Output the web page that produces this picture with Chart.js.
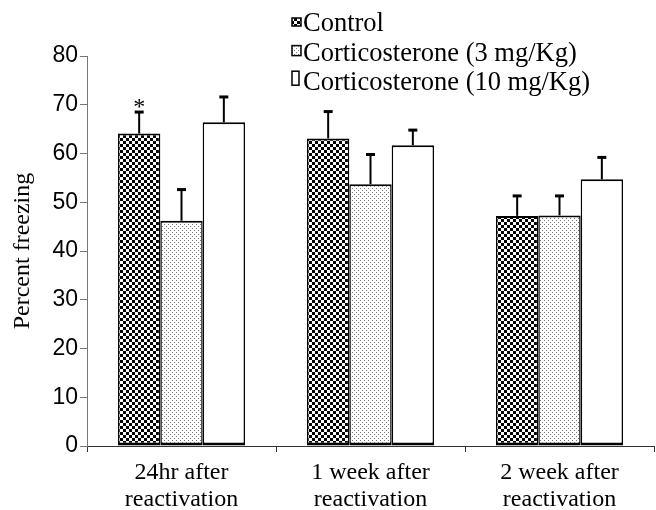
<!DOCTYPE html>
<html>
<head>
<meta charset="utf-8">
<script src="https://cdn.jsdelivr.net/npm/chart.js@4.4.1/dist/chart.umd.min.js"></script>
<style>
  html, body { margin: 0; padding: 0; background: #fff; }
  #wrap { width: 656px; height: 510px; }
</style>
</head>
<body>
<div id="wrap"><canvas id="chart" width="656" height="510"></canvas></div>
<script>
const categories = [["24hr after", "reactivation"], ["1 week after", "reactivation"], ["2 week after", "reactivation"]]
const seriesNames = ["Control", "Corticosterone (3 mg/Kg)", "Corticosterone (10 mg/Kg)"]
const controlMeans = [64.1, 63.1, 47.2]
const cort3Means = [46.2, 53.7, 47.3]
const cort10Means = [66.4, 61.7, 54.7]
const controlErr = [4.4, 5.5, 4.1]
const cort3Err = [6.4, 6.1, 4.0]
const cort10Err = [5.2, 3.1, 4.5]
const yTicks = [0, 10, 20, 30, 40, 50, 60, 70, 80]
const starred = [{ series: 0, index: 0, text: "*" }]

const SERIF = "Liberation Serif, Times New Roman, serif"
const SANS = "Liberation Sans Narrow, Arial Narrow, Liberation Sans, sans-serif"

Chart.defaults.font.family = SERIF

function makePattern(kind) {
  const c = document.createElement("canvas")
  const p = c.getContext("2d")
  if (kind === "checker") {
    c.width = 6; c.height = 6
    p.fillStyle = "#fff"; p.fillRect(0, 0, 6, 6)
    p.fillStyle = "#000"
    p.fillRect(0, 0, 3, 3); p.fillRect(3, 3, 3, 3)
  } else if (kind === "dots") {
    c.width = 4; c.height = 4
    p.fillStyle = "#fff"; p.fillRect(0, 0, 4, 4)
    p.fillStyle = "#777"
    p.fillRect(0, 0, 1, 1); p.fillRect(2, 2, 1, 1)
  } else {
    c.width = 2; c.height = 2
    p.fillStyle = "#fff"; p.fillRect(0, 0, 2, 2)
  }
  return document.getElementById("chart").getContext("2d").createPattern(c, "repeat")
}

const fills = [makePattern("checker"), makePattern("dots"), makePattern("plain")]
const errs = [controlErr, cort3Err, cort10Err]

// error bars (upper half only) + significance marks
const errorBarPlugin = {
  id: "errorBars",
  afterDatasetsDraw(chart) {
    const ctx = chart.ctx
    const y = chart.scales.y
    ctx.save()
    ctx.strokeStyle = "#000"
    chart.data.datasets.forEach((ds, i) => {
      const meta = chart.getDatasetMeta(i)
      meta.data.forEach((bar, j) => {
        const top = y.getPixelForValue(ds.data[j])
        const hi = y.getPixelForValue(ds.data[j] + errs[i][j])
        ctx.lineWidth = 2
        ctx.beginPath()
        ctx.moveTo(bar.x, top)
        ctx.lineTo(bar.x, hi)
        ctx.stroke()
        ctx.lineWidth = 3
        ctx.beginPath()
        ctx.moveTo(bar.x - 4.5, hi)
        ctx.lineTo(bar.x + 4.5, hi)
        ctx.stroke()
      })
    })
    ctx.fillStyle = "#000"
    ctx.font = "24px " + SERIF
    ctx.textAlign = "center"
    ctx.textBaseline = "alphabetic"
    starred.forEach(s => {
      const bar = chart.getDatasetMeta(s.series).data[s.index]
      const v = chart.data.datasets[s.series].data[s.index] + errs[s.series][s.index]
      ctx.fillText(s.text, bar.x, y.getPixelForValue(v) + 2)
    })
    ctx.restore()
  }
}

// legend drawn in the top right like the original figure
const legendPlugin = {
  id: "figLegend",
  afterDraw(chart) {
    const ctx = chart.ctx
    const boxes = [[9, 8], [9, 10], [7, 14]]
    ctx.save()
    ctx.font = "26.5px " + SERIF
    ctx.textBaseline = "alphabetic"
    chart.data.datasets.forEach((ds, i) => {
      const base = 31 + i * 29.6
      const [w, h] = boxes[i]
      ctx.fillStyle = ds.backgroundColor
      ctx.fillRect(292, base - 5 - h, w, h)
      ctx.strokeStyle = "#000"
      ctx.lineWidth = 1.5
      ctx.strokeRect(292, base - 5 - h, w, h)
      ctx.fillStyle = "#000"
      ctx.fillText(ds.label, 303, base)
    })
    ctx.restore()
  }
}

const datasets = [controlMeans, cort3Means, cort10Means].map((d, i) => ({
  label: seriesNames[i],
  data: d,
  backgroundColor: fills[i],
  borderColor: "#000",
  borderWidth: { top: 2, left: 1.5, right: 1.5, bottom: 3 },
  borderSkipped: false,
  barPercentage: 1,
  categoryPercentage: 0.672
}))

new Chart(document.getElementById("chart"), {
  type: "bar",
  data: { labels: categories, datasets },
  options: {
    responsive: false,
    animation: false,
    devicePixelRatio: 1,
    layout: { padding: { top: 56, left: 0, right: 2, bottom: 0 } },
    plugins: { legend: { display: false }, tooltip: { enabled: false } },
    scales: {
      x: {
        afterFit: s => { s.height = 64 },
        grid: { drawOnChartArea: false, tickLength: 6, color: "#333", offset: true },
        border: { color: "#333", width: 1 },
        ticks: {
          color: "#000",
          padding: 7,
          maxRotation: 0,
          font: { family: SERIF, size: 24, lineHeight: 1.12 }
        }
      },
      y: {
        min: 0,
        max: 80,
        afterFit: s => { s.width = 87 },
        afterBuildTicks: s => { s.ticks = yTicks.map(v => ({ value: v })) },
        grid: { drawOnChartArea: false, tickLength: 7, color: "#777" },
        border: { color: "#777", width: 1 },
        ticks: {
          color: "#000",
          padding: 2,
          font: { family: SANS, size: 23 }
        },
        title: {
          display: true,
          text: "Percent freezing",
          color: "#000",
          padding: { top: 8, bottom: 0 },
          font: { family: SERIF, size: 24 }
        }
      }
    }
  },
  plugins: [errorBarPlugin, legendPlugin]
})
</script>
</body>
</html>
